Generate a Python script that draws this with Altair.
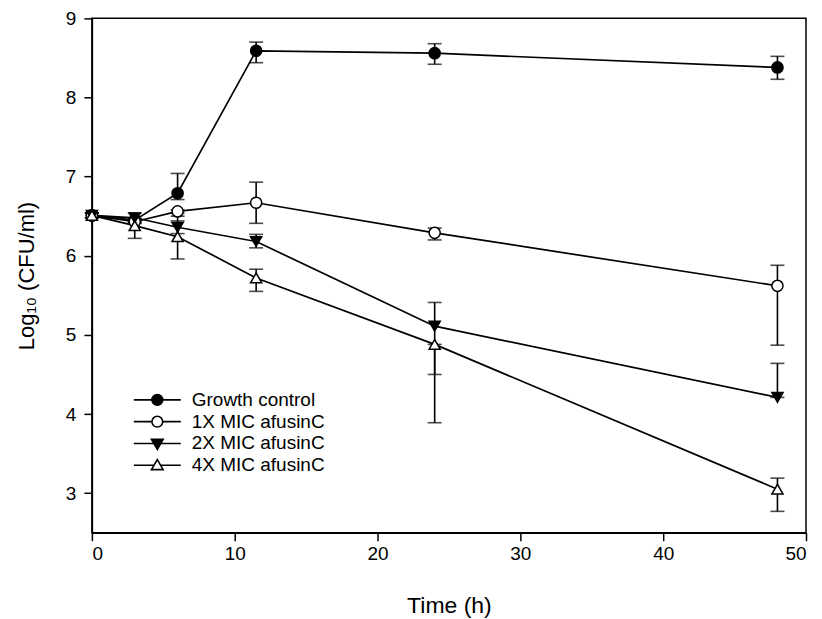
import altair as alt
import pandas as pd

# ---- data ----
times = [0, 3, 6, 11.5, 24, 48]
series_names = ["Growth control", "1X MIC afusinC", "2X MIC afusinC", "4X MIC afusinC"]

gc_mean = [6.51, 6.45, 6.79, 8.59, 8.56, 8.38]
gc_hi = [6.54, 6.47, 7.04, 8.70, 8.68, 8.52]
gc_lo = [6.48, 6.43, 6.71, 8.44, 8.42, 8.23]

x1_mean = [6.51, 6.43, 6.56, 6.67, 6.29, 5.62]
x1_hi = [6.54, 6.45, 6.58, 6.93, 6.35, 5.88]
x1_lo = [6.48, 6.41, 6.54, 6.41, 6.20, 4.87]

x2_mean = [6.51, 6.48, 6.36, 6.18, 5.11, 4.21]
x2_hi = [6.54, 6.54, 6.44, 6.27, 5.41, 4.64]
x2_lo = [6.48, 6.42, 6.28, 6.10, 4.50, 4.21]

x4_mean = [6.51, 6.38, 6.24, 5.72, 4.88, 3.05]
x4_hi = [6.54, 6.45, 6.50, 5.83, 4.88, 3.19]
x4_lo = [6.48, 6.22, 5.96, 5.55, 3.89, 2.77]

x_ticks = [0, 10, 20, 30, 40, 50]
y_ticks = [3, 4, 5, 6, 7, 8, 9]

rows = []
for name, m, lo, hi in zip(series_names,
                           [gc_mean, x1_mean, x2_mean, x4_mean],
                           [gc_lo, x1_lo, x2_lo, x4_lo],
                           [gc_hi, x1_hi, x2_hi, x4_hi]):
    for t, a, b, c in zip(times, m, lo, hi):
        rows.append({"series": name, "t": t, "mean": a, "lo": b, "hi": c})
df = pd.DataFrame(rows)

FONT = "Liberation Sans"
xscale = alt.Scale(domain=[0, 50], nice=False)
yscale = alt.Scale(domain=[2.5, 9], nice=False, zero=False)
xaxis = alt.Axis(values=x_ticks, title="Time (h)", format="d")
yaxis = alt.Axis(values=y_ticks, title="Log₁₀ (CFU/ml)", format="d")

X = alt.X("t:Q", scale=xscale, axis=xaxis)

def Y(field):
    return alt.Y(f"{field}:Q", scale=yscale, axis=yaxis)

base = alt.Chart(df)

err = base.mark_rule(color="black", strokeWidth=1.6).encode(
    x=X, y=Y("lo"), y2="hi:Q")
cap_lo = base.mark_tick(orient="horizontal", color="black", size=14, thickness=1.6).encode(
    x=X, y=Y("lo"))
cap_hi = base.mark_tick(orient="horizontal", color="black", size=14, thickness=1.6).encode(
    x=X, y=Y("hi"))

lines = base.mark_line(color="black", strokeWidth=1.7).encode(
    x=X, y=Y("mean"), detail="series:N", order="t:Q")

shape_plain = alt.Scale(domain=series_names,
                        range=["circle", "circle", "triangle-down", "triangle-up"])
fill_scale = alt.Scale(domain=series_names, range=["black", "white", "black", "white"])

points = base.mark_point(filled=False, stroke="black", strokeWidth=1.5, size=125, opacity=1).encode(
    x=X, y=Y("mean"),
    shape=alt.Shape("series:N", scale=shape_plain, legend=None),
    fill=alt.Fill("series:N", scale=fill_scale, legend=None),
)

# legend symbols: short line with marker in the middle (unit coordinates)
p_fc = "M-1,0L1,0M0.23,0A0.23,0.23,0,1,1,-0.23,0A0.23,0.23,0,1,1,0.23,0Z"
p_oc = "M-1,0L-0.23,0M0.23,0L1,0M0.23,0A0.23,0.23,0,1,1,-0.23,0A0.23,0.23,0,1,1,0.23,0Z"
p_td = "M-1,0L1,0M-0.25,-0.18L0.25,-0.18L0,0.25Z"
p_tu = "M-1,0L-0.13,0M0.13,0L1,0M0,-0.24L0.25,0.19L-0.25,0.19Z"
shape_legend = alt.Scale(domain=series_names, range=[p_fc, p_oc, p_td, p_tu])
stroke_legend = alt.Scale(domain=series_names, range=["black", "black", "black", "black"])

leg = dict(title=None, orient="none", legendX=41, legendY=372,
           symbolSize=2209, symbolStrokeWidth=1.6, symbolOpacity=1,
           clipHeight=20, rowPadding=1.8, labelOffset=10,
           labelFont=FONT, labelFontSize=19, labelColor="black", padding=0)

legend_layer = base.transform_filter("datum.t < -100").mark_point(
    filled=False, strokeWidth=1.6, size=2209, opacity=1).encode(
    x=X, y=Y("mean"),
    shape=alt.Shape("series:N", scale=shape_legend, legend=alt.Legend(**leg)),
    fill=alt.Fill("series:N", scale=fill_scale, legend=alt.Legend(**leg)),
    stroke=alt.Stroke("series:N", scale=stroke_legend, legend=alt.Legend(**leg)),
)

chart = alt.layer(err, cap_lo, cap_hi, lines, points, legend_layer).resolve_scale(
    shape="independent", fill="independent", stroke="independent"
).properties(
    width=715, height=515,
    autosize=alt.AutoSizeParams(type="none"),
    padding={"left": 84, "top": 10, "right": 8, "bottom": 86},
).configure_view(
    stroke="black", strokeWidth=1.5
).configure_axis(
    grid=False, domainColor="black", domainWidth=1.5, tickColor="black", tickWidth=1.5,
    tickSize=8, labelFont=FONT, labelFontSize=19, labelColor="black", labelPadding=4,
    titleFont=FONT, titleFontSize=22, titleFontWeight="normal", titleColor="black",
).configure_axisX(titlePadding=31, titleFontSize=23).configure_axisY(titlePadding=27, labelPadding=8)

chart.save("out.html", embed_options={"renderer": "svg", "actions": False})
